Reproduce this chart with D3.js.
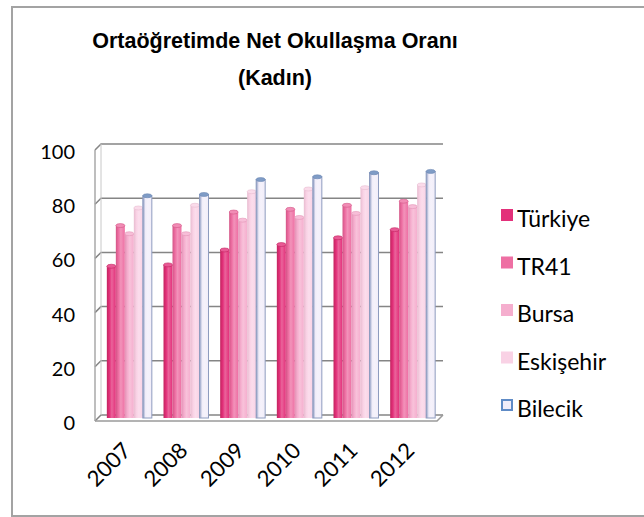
<!DOCTYPE html>
<html>
<head>
<meta charset="utf-8">
<script src="https://cdn.jsdelivr.net/npm/d3@7"></script>
<style>
  body { margin: 0; background: #fff; }
  svg { display: block; }
</style>
</head>
<body>
<svg id="chart" width="644" height="517"></svg>
<script>
// data
var years = ["2007", "2008", "2009", "2010", "2011", "2012"];
var seriesNames = ["Türkiye", "TR41", "Bursa", "Eskişehir", "Bilecik"];
var turkiye   = [56, 56.5, 62, 64, 66.5, 69.5];
var tr41      = [71, 71, 76, 77, 78.5, 80];
var bursa     = [68, 68, 73, 74, 75.5, 78];
var eskisehir = [77.5, 78.5, 83.5, 84.5, 85, 86];
var bilecik   = [82, 82.5, 88, 89, 90.5, 91];
var yTicks = [0, 20, 40, 60, 80, 100];

var seriesValues = [turkiye, tr41, bursa, eskisehir, bilecik];
var colors = ["#e3307a", "#ee6fa3", "#f5aece", "#f9d2e5", "#f1edf9"];
var edgeColors = ["#c2245f", "#d35586", "#e393b6", "#e8bcd0", "#8797bf"];

var svg = d3.select("#chart");

// chart frame
svg.append("rect")
    .attr("x", 12).attr("y", 7)
    .attr("width", 640).attr("height", 509)
    .attr("fill", "#fff")
    .attr("stroke", "#a3a3a3")
    .attr("stroke-width", 2);

// title
var titleFont = "bold 21.5px 'Liberation Sans', Arial, sans-serif";
svg.append("text")
    .attr("x", 275).attr("y", 48)
    .attr("text-anchor", "middle")
    .style("font", titleFont)
    .text("Ortaöğretimde Net Okullaşma Oranı");
svg.append("text")
    .attr("x", 275).attr("y", 85)
    .attr("text-anchor", "middle")
    .style("font", titleFont)
    .text("(Kadın)");

// depth offsets of the 3d box (relative to the bar plane)
var back = { dx: 3, dy: -3 };
var front = { dx: -3, dy: 3 };

var y = d3.scaleLinear().domain([0, 100]).range([418, 147]);
var x = d3.scaleBand().domain(years).range([101, 441])
    .paddingInner(0.206).paddingOuter(0.103);
var xs = d3.scaleBand().domain(seriesNames).range([0, x.bandwidth()]);

var xLeft = 98, xRight = 440;

// walls: gridlines on back wall, ticks on side wall
var grid = svg.append("g");
yTicks.forEach(function(t) {
    var yy = y(t);
    grid.append("path")
        .attr("d", "M" + (xLeft + front.dx) + "," + (yy + front.dy) +
                   "L" + (xLeft + back.dx) + "," + (yy + back.dy) +
                   "L" + (xRight + back.dx) + "," + (yy + back.dy))
        .attr("fill", "none")
        .attr("stroke", "#858585")
        .attr("stroke-width", 1.5);
});
// side wall edges
grid.append("line")
    .attr("x1", xLeft + front.dx).attr("y1", y(0) + front.dy)
    .attr("x2", xLeft + front.dx).attr("y2", y(100) + front.dy)
    .attr("stroke", "#a8a8a8").attr("stroke-width", 1.5);
grid.append("line")
    .attr("x1", xLeft + back.dx).attr("y1", y(0) + back.dy)
    .attr("x2", xLeft + back.dx).attr("y2", y(100) + back.dy)
    .attr("stroke", "#c8c8c8").attr("stroke-width", 1);
// floor
grid.append("path")
    .attr("d", "M" + (xLeft + front.dx) + "," + (y(0) + front.dy) +
               "L" + (xRight + front.dx) + "," + (y(0) + front.dy) +
               "L" + (xRight + back.dx) + "," + (y(0) + back.dy))
    .attr("fill", "none")
    .attr("stroke", "#9a9a9a")
    .attr("stroke-width", 1.5);

// gradients for column shading
var defs = svg.append("defs");
colors.forEach(function(c, i) {
    var g = defs.append("linearGradient")
        .attr("id", "grad" + i)
        .attr("x1", "0%").attr("x2", "100%").attr("y1", "0%").attr("y2", "0%");
    var dark = d3.color(edgeColors[i]);
    var light = d3.interpolateRgb(c, "#ffffff")(0.25);
    g.append("stop").attr("offset", "0%").attr("stop-color", dark);
    g.append("stop").attr("offset", "30%").attr("stop-color", c);
    g.append("stop").attr("offset", "55%").attr("stop-color", light);
    g.append("stop").attr("offset", "100%").attr("stop-color", c);
});

// columns
var bars = svg.append("g");
years.forEach(function(yr, j) {
    seriesNames.forEach(function(s, i) {
        var v = seriesValues[i][j];
        var bx = x(yr) + xs(s);
        var bw = xs.bandwidth();
        bars.append("rect")
            .attr("x", bx).attr("y", y(v))
            .attr("width", bw).attr("height", y(0) - y(v))
            .attr("fill", "url(#grad" + i + ")")
            .attr("stroke", i === 4 ? "#8e9cbf" : "none")
            .attr("stroke-width", 1);
        // top cap
        bars.append("ellipse")
            .attr("cx", bx + bw / 2).attr("cy", y(v))
            .attr("rx", bw / 2).attr("ry", 2)
            .attr("fill", i === 4 ? "#7f9cc6" : d3.interpolateRgb(colors[i], "#ffffff")(0.2))
            .attr("stroke", i === 4 ? "#6d88b3" : edgeColors[i])
            .attr("stroke-width", 0.6);
    });
});

// y axis labels
svg.append("g").selectAll("text")
    .data(yTicks).join("text")
    .attr("x", 75)
    .attr("y", function(d) { return y(d) + front.dy + 1; })
    .attr("text-anchor", "end")
    .attr("dominant-baseline", "central")
    .style("font", "20px Lato, sans-serif")
    .text(function(d) { return d; });

// x axis labels
svg.append("g").selectAll("text")
    .data(years).join("text")
    .attr("transform", function(d) {
        return "translate(" + (x(d) + x.bandwidth() / 2 - 3) + ",446) rotate(-45)";
    })
    .attr("text-anchor", "end")
    .attr("dominant-baseline", "central")
    .style("font", "22px Lato, sans-serif")
    .text(function(d) { return d; });

// legend
var legend = svg.append("g");
seriesNames.forEach(function(s, i) {
    var ly = 209 + i * 47.5;
    legend.append("rect")
        .attr("x", i === 4 ? 502 : 501).attr("y", i === 4 ? ly + 1 : ly)
        .attr("width", i === 4 ? 10 : 12).attr("height", i === 4 ? 10 : 12)
        .attr("fill", colors[i])
        .attr("stroke", i === 4 ? "#5f8bc6" : "none")
        .attr("stroke-width", 2);
    legend.append("text")
        .attr("x", 517).attr("y", ly + 18)
        .style("font", "23px Lato, sans-serif")
        .text(s);
});
</script>
</body>
</html>
